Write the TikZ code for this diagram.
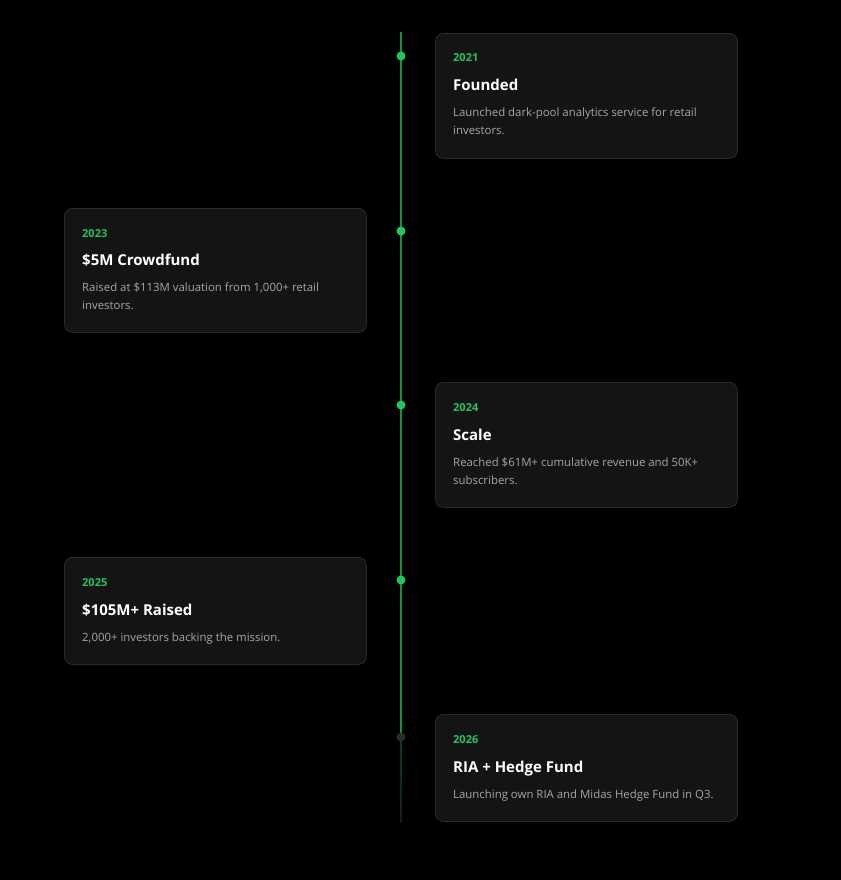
\documentclass[tikz,border=0pt]{standalone}
\usepackage{fontspec}
\setmainfont{Open Sans}
\definecolor{bg}{HTML}{000000}
\definecolor{cardfill}{HTML}{141414}
\definecolor{cardline}{HTML}{2A2A2A}
\definecolor{accent}{HTML}{22C55E}
\definecolor{rail}{HTML}{12923F}
\definecolor{muted}{HTML}{A6A6A6}
\definecolor{future}{HTML}{2C2C2C}
\tikzset{
  card/.style={draw=cardline, fill=cardfill, line width=0.8pt, rounded corners=8pt,
    anchor=north west, minimum width=302pt, inner sep=0pt},
  year/.style={anchor=base west, inner sep=0pt, text=accent, font=\fontsize{11}{13}\selectfont\bfseries},
  title/.style={anchor=base west, inner sep=0pt, text=white, font=\fontsize{15}{18}\selectfont\bfseries},
  desc/.style={anchor=base west, inner sep=0pt, text=muted, font=\fontsize{11.4}{13}\selectfont},
  dot/.style={circle, fill=accent, minimum size=9pt, inner sep=0pt},
  fdot/.style={circle, fill=future, minimum size=9pt, inner sep=0pt}
}
\begin{document}
\begin{tikzpicture}[x=1pt, y=-1pt]
  \useasboundingbox (0,0) rectangle (840,880);
  \fill[bg] (-5,-5) rectangle (845,885);
  \coordinate (top) at (401,32);
  \coordinate (bot) at (401,822);
  \coordinate (m5) at (401,737);
  \draw[draw=rail, line width=1.25pt] (top) -- (m5);
  \shade[top color=rail!45!black, bottom color=black!90!white] ([xshift=-0.6pt]m5) rectangle ([xshift=0.6pt]bot);
  \node[dot] (p1) at (401,56) {};
  \node[dot] (p2) at (401,231) {};
  \node[dot] (p3) at (401,405) {};
  \node[dot] (p4) at (401,580) {};
  \node[fdot] (p5) at (m5) {};

  \node[card, minimum height=125pt] (c1) at (435,33) {};
  \node[year] (y1) at (453,62) {2021};
  \node[title] (t1) at (453,91) {Founded};
  \node[desc] (d1) at (453,117) {Launched dark-pool analytics service for retail};
  \node[desc] (e1) at (453,135) {investors.};

  \node[card, minimum height=124pt] (c2) at (64,208) {};
  \node[year] (y2) at (82,237) {2023};
  \node[title] (t2) at (82,265) {\$5M Crowdfund};
  \node[desc] (d2) at (82,291) {Raised at \$113M valuation from 1,000+ retail};
  \node[desc] (e2) at (82,309) {investors.};

  \node[card, minimum height=125pt] (c3) at (435,382) {};
  \node[year] (y3) at (453,411) {2024};
  \node[title] (t3) at (453,440) {Scale};
  \node[desc] (d3) at (453,466) {Reached \$61M+ cumulative revenue and 50K+};
  \node[desc] (e3) at (453,484) {subscribers.};

  \node[card, minimum height=107pt] (c4) at (64,557) {};
  \node[year] (y4) at (82,586) {2025};
  \node[title] (t4) at (82,615) {\$105M+ Raised};
  \node[desc] (d4) at (82,641) {2,000+ investors backing the mission.};

  \node[card, minimum height=107pt] (c5) at (435,714) {};
  \node[year] (y5) at (453,743) {2026};
  \node[title] (t5) at (453,772) {RIA + Hedge Fund};
  \node[desc] (d5) at (453,798) {Launching own RIA and Midas Hedge Fund in Q3.};
\end{tikzpicture}
\end{document}
